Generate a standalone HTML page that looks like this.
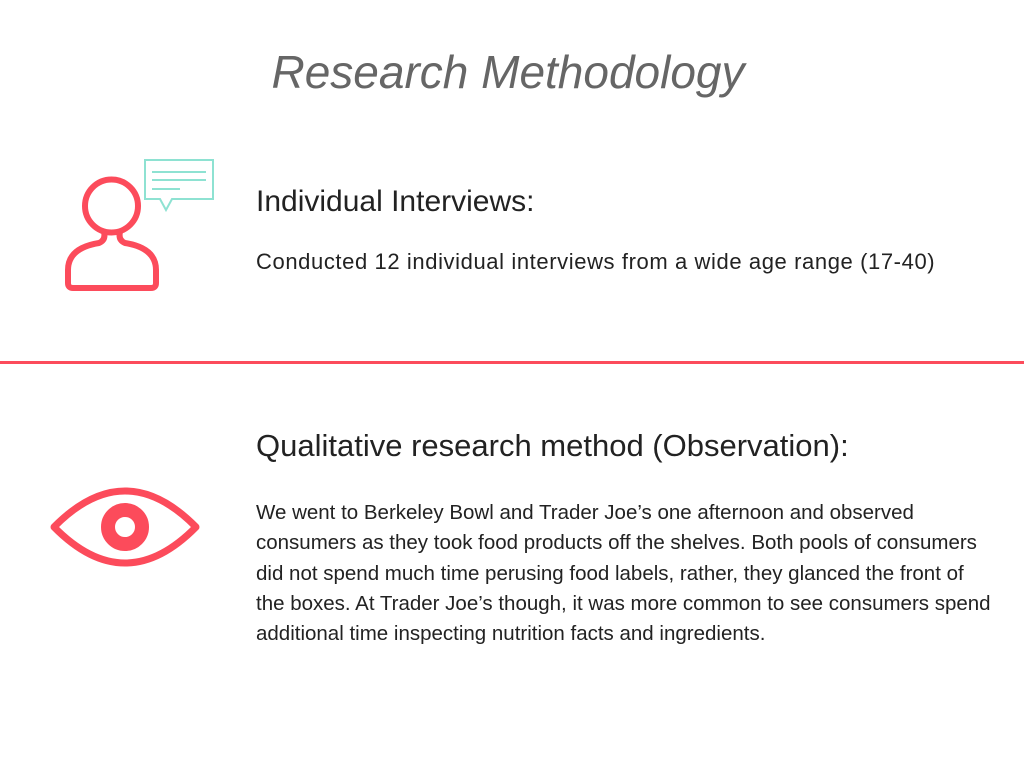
<!DOCTYPE html>
<html><head><meta charset="utf-8"><style>
body{margin:0;width:1024px;height:768px;background:#fff;position:relative;overflow:hidden;font-family:"Liberation Sans",sans-serif;color:#222}
.t{position:absolute;white-space:nowrap}
</style></head><body>
<div class="t" style="left:0;width:1016px;text-align:center;top:45px;font-size:46px;font-style:italic;color:#666">Research Methodology</div>
<svg style="position:absolute;left:0;top:0" width="240" height="600">
 <g fill="none" stroke="#fc4b5b" stroke-width="6" stroke-linejoin="round">
  <circle cx="111.5" cy="206" r="26.5"/>
  <path d="M104 232 Q106 240 99 243 Q68 248 68 270 L68 283 Q68 288 73 288 L151 288 Q156 288 156 283 L156 270 Q156 248 125 243 Q118 240 120 232"/>
 </g>
 <g fill="none" stroke="#8ee2d2" stroke-width="2">
  <path d="M145 160 H213 V199 H172 L166 210 L160 199 H145 Z"/>
  <line x1="152" y1="172" x2="206" y2="172"/><line x1="152" y1="180" x2="206" y2="180"/><line x1="152" y1="189" x2="180" y2="189"/>
 </g>
 <g>
  <path d="M54 527 Q125 455 196 527 Q125 599 54 527 Z" fill="none" stroke="#fc4b5b" stroke-width="7" stroke-linejoin="round"/>
  <circle cx="125" cy="527" r="17" fill="none" stroke="#fc4b5b" stroke-width="14"/>
 </g>
</svg>
<div class="t" style="left:256px;top:185px;font-size:30px">Individual Interviews:</div>
<div class="t" style="left:256px;top:249px;font-size:22px;letter-spacing:0.6px">Conducted 12 individual interviews from a wide age range (17-40)</div>
<div style="position:absolute;left:0;top:361px;width:1024px;height:3px;background:#fc4b5b"></div>
<div class="t" style="left:256px;top:428px;font-size:31px">Qualitative research method (Observation):</div>
<div style="position:absolute;left:256px;top:498px;width:760px;font-size:20.5px;line-height:30.3px;white-space:nowrap">We went to Berkeley Bowl and Trader Joe’s one afternoon and observed<br>consumers as they took food products off the shelves. Both pools of consumers<br>did not spend much time perusing food labels, rather, they glanced the front of<br>the boxes. At Trader Joe’s though, it was more common to see consumers spend<br>additional time inspecting nutrition facts and ingredients.</div>
</body></html>
